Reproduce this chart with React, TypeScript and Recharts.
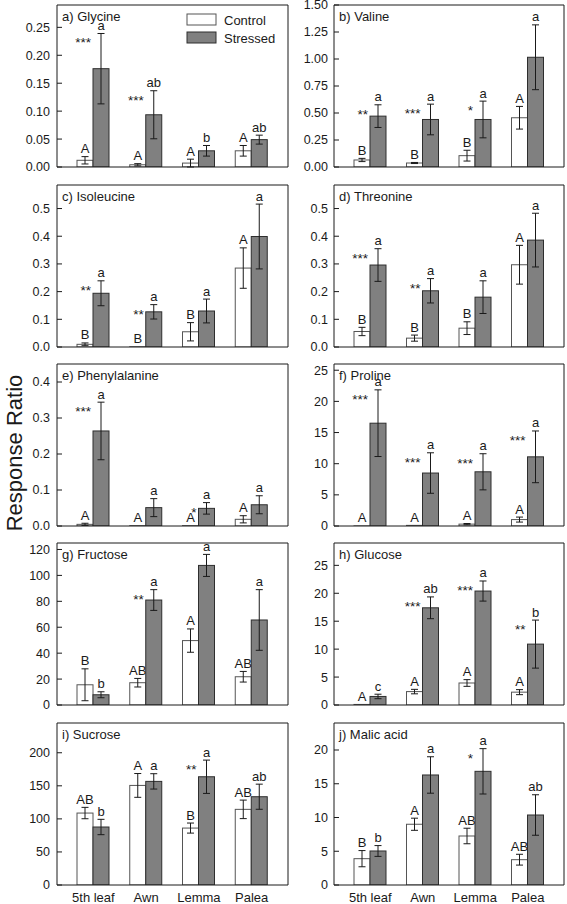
import { BarChart, Bar, XAxis, YAxis, ErrorBar } from 'recharts';

const FONT = '"Liberation Sans", Arial, Helvetica, sans-serif';
const INK = '#1a1a1a';
const CONTROL_FILL = '#ffffff';
const CONTROL_EDGE = '#555555';
const STRESSED_FILL = '#808080';
const STRESSED_EDGE = '#2e2e2e';

const organs = ['5th leaf', 'Awn', 'Lemma', 'Palea'];

// a) Glycine
const glyControl = [0.012, 0.004, 0.007, 0.029];
const glyControlSe = [0.0066, 0.002, 0.007, 0.0095];
const glyStressed = [0.176, 0.0935, 0.029, 0.049];
const glyStressedSe = [0.063, 0.043, 0.0095, 0.008];
const glyControlLetters = ['A', 'A', 'A', 'A'];
const glyStressedLetters = ['a', 'ab', 'b', 'ab'];
const glyStars = ['***', '***', '', ''];
const glyTicks = [0, 0.05, 0.1, 0.15, 0.2, 0.25];

// b) Valine
const valControl = [0.065, 0.037, 0.105, 0.456];
const valControlSe = [0.015, 0.005, 0.05, 0.105];
const valStressed = [0.471, 0.44, 0.44, 1.016];
const valStressedSe = [0.105, 0.142, 0.17, 0.3];
const valControlLetters = ['B', 'B', 'B', 'A'];
const valStressedLetters = ['a', 'a', 'a', 'a'];
const valStars = ['**', '***', '*', ''];
const valTicks = [0, 0.25, 0.5, 0.75, 1.0, 1.25, 1.5];

// c) Isoleucine
const ileControl = [0.0097, 0.001, 0.055, 0.285];
const ileControlSe = [0.005, 0, 0.033, 0.073];
const ileStressed = [0.194, 0.127, 0.13, 0.399];
const ileStressedSe = [0.045, 0.026, 0.043, 0.117];
const ileControlLetters = ['B', 'B', 'B', 'A'];
const ileStressedLetters = ['a', 'a', 'a', 'a'];
const ileStars = ['**', '**', '', ''];
const ileTicks = [0, 0.1, 0.2, 0.3, 0.4, 0.5];

// d) Threonine
const thrControl = [0.056, 0.032, 0.068, 0.297];
const thrControlSe = [0.015, 0.011, 0.023, 0.07];
const thrStressed = [0.296, 0.203, 0.18, 0.386];
const thrStressedSe = [0.059, 0.044, 0.059, 0.097];
const thrControlLetters = ['B', 'B', 'B', 'A'];
const thrStressedLetters = ['a', 'a', 'a', 'a'];
const thrStars = ['***', '**', '', ''];
const thrTicks = [0, 0.1, 0.2, 0.3, 0.4, 0.5];

// e) Phenylalanine
const pheControl = [0.0046, 0.001, 0.001, 0.0186];
const pheControlSe = [0.003, 0, 0, 0.01];
const pheStressed = [0.264, 0.051, 0.049, 0.059];
const pheStressedSe = [0.08, 0.025, 0.016, 0.025];
const pheControlLetters = ['A', 'A', 'A', 'A'];
const pheStressedLetters = ['a', 'a', 'a', 'a'];
const pheStars = ['***', '', '*', ''];
const pheTicks = [0, 0.1, 0.2, 0.3, 0.4];

// f) Proline
const proControl = [0.02, 0.1, 0.3, 1.03];
const proControlSe = [0, 0, 0.1, 0.4];
const proStressed = [16.5, 8.5, 8.7, 11.1];
const proStressedSe = [5.35, 3.25, 2.9, 4.15];
const proControlLetters = ['A', 'A', 'A', 'A'];
const proStressedLetters = ['a', 'a', 'a', 'a'];
const proStars = ['***', '***', '***', '***'];
const proTicks = [0, 5, 10, 15, 20, 25];

// g) Fructose
const fruControl = [15.6, 17.2, 49.7, 21.8];
const fruControlSe = [12.3, 3.3, 9, 4.1];
const fruStressed = [7.9, 81, 107.7, 65.6];
const fruStressedSe = [2.3, 8, 8.5, 23.4];
const fruControlLetters = ['B', 'AB', 'A', 'AB'];
const fruStressedLetters = ['b', 'a', 'a', 'a'];
const fruStars = ['', '**', '', ''];
const fruTicks = [0, 20, 40, 60, 80, 100, 120];

// h) Glucose
const gluControl = [0.1, 2.4, 3.94, 2.3];
const gluControlSe = [0, 0.4, 0.6, 0.45];
const gluStressed = [1.53, 17.4, 20.4, 10.9];
const gluStressedSe = [0.4, 1.95, 1.8, 4.3];
const gluControlLetters = ['A', 'A', 'A', 'A'];
const gluStressedLetters = ['c', 'ab', 'a', 'b'];
const gluStars = ['', '***', '***', '**'];
const gluTicks = [0, 5, 10, 15, 20, 25];

// i) Sucrose
const sucControl = [108.8, 150.6, 86.1, 114.4];
const sucControlSe = [8.6, 18, 7.6, 14];
const sucStressed = [87.7, 156.7, 163.7, 133.5];
const sucStressedSe = [11.6, 11.6, 25.2, 19];
const sucControlLetters = ['AB', 'A', 'B', 'AB'];
const sucStressedLetters = ['b', 'a', 'a', 'ab'];
const sucStars = ['', '', '**', ''];
const sucTicks = [0, 50, 100, 150, 200];

// j) Malic acid
const malControl = [3.9, 9.0, 7.26, 3.75];
const malControlSe = [1.2, 0.9, 1.15, 0.8];
const malStressed = [5.04, 16.3, 16.84, 10.37];
const malStressedSe = [0.8, 2.7, 3.36, 3];
const malControlLetters = ['B', 'A', 'AB', 'AB'];
const malStressedLetters = ['b', 'a', 'a', 'ab'];
const malStars = ['', '', '*', ''];
const malTicks = [0, 5, 10, 15, 20];

type PanelDef = {
  title: string;
  control: number[];
  controlSe: number[];
  stressed: number[];
  stressedSe: number[];
  cLetters: string[];
  sLetters: string[];
  stars: string[];
  ticks: number[];
  max: number;
  decimals: number;
};

const panels: PanelDef[] = [
  { title: 'a) Glycine', control: glyControl, controlSe: glyControlSe, stressed: glyStressed, stressedSe: glyStressedSe, cLetters: glyControlLetters, sLetters: glyStressedLetters, stars: glyStars, ticks: glyTicks, max: 0.29, decimals: 2 },
  { title: 'b) Valine', control: valControl, controlSe: valControlSe, stressed: valStressed, stressedSe: valStressedSe, cLetters: valControlLetters, sLetters: valStressedLetters, stars: valStars, ticks: valTicks, max: 1.5, decimals: 2 },
  { title: 'c) Isoleucine', control: ileControl, controlSe: ileControlSe, stressed: ileStressed, stressedSe: ileStressedSe, cLetters: ileControlLetters, sLetters: ileStressedLetters, stars: ileStars, ticks: ileTicks, max: 0.585, decimals: 1 },
  { title: 'd) Threonine', control: thrControl, controlSe: thrControlSe, stressed: thrStressed, stressedSe: thrStressedSe, cLetters: thrControlLetters, sLetters: thrStressedLetters, stars: thrStars, ticks: thrTicks, max: 0.585, decimals: 1 },
  { title: 'e) Phenylalanine', control: pheControl, controlSe: pheControlSe, stressed: pheStressed, stressedSe: pheStressedSe, cLetters: pheControlLetters, sLetters: pheStressedLetters, stars: pheStars, ticks: pheTicks, max: 0.45, decimals: 1 },
  { title: 'f) Proline', control: proControl, controlSe: proControlSe, stressed: proStressed, stressedSe: proStressedSe, cLetters: proControlLetters, sLetters: proStressedLetters, stars: proStars, ticks: proTicks, max: 26, decimals: 0 },
  { title: 'g) Fructose', control: fruControl, controlSe: fruControlSe, stressed: fruStressed, stressedSe: fruStressedSe, cLetters: fruControlLetters, sLetters: fruStressedLetters, stars: fruStars, ticks: fruTicks, max: 125, decimals: 0 },
  { title: 'h) Glucose', control: gluControl, controlSe: gluControlSe, stressed: gluStressed, stressedSe: gluStressedSe, cLetters: gluControlLetters, sLetters: gluStressedLetters, stars: gluStars, ticks: gluTicks, max: 29, decimals: 0 },
  { title: 'i) Sucrose', control: sucControl, controlSe: sucControlSe, stressed: sucStressed, stressedSe: sucStressedSe, cLetters: sucControlLetters, sLetters: sucStressedLetters, stars: sucStars, ticks: sucTicks, max: 245, decimals: 0 },
  { title: 'j) Malic acid', control: malControl, controlSe: malControlSe, stressed: malStressed, stressedSe: malStressedSe, cLetters: malControlLetters, sLetters: malStressedLetters, stars: malStars, ticks: malTicks, max: 24, decimals: 0 },
];

// layout
const ROW_TOPS = [5, 185, 364, 543, 723];
const PLOT_H = 162;
const PAD_TOP = 8;
const COLS = [
  { left: 0, width: 290, axisW: 57, tickMargin: 12 },
  { left: 290, width: 276, axisW: 44, tickMargin: 11 },
];

function Panel({ p, row, col }: { p: PanelDef; row: number; col: number }) {
  const last = row === 4;
  const c = COLS[col];
  const k = PLOT_H / p.max;
  const data = organs.map((name, i) => ({
    name,
    control: p.control[i],
    controlSe: p.controlSe[i],
    stressed: p.stressed[i],
    stressedSe: p.stressedSe[i],
  }));

  const makeShape = (kind: 'c' | 's') => (props: any) => {
    const { x, y, width, height, index } = props;
    const base = y + height;
    const val = kind === 'c' ? p.control[index] : p.stressed[index];
    const se = kind === 'c' ? p.controlSe[index] : p.stressedSe[index];
    const errTop = base - (val + se) * k;
    const letter = kind === 'c' ? p.cLetters[index] : p.sLetters[index];
    const stars = kind === 's' ? p.stars[index] : '';
    return (
      <g>
        <rect
          x={x}
          y={y}
          width={width}
          height={Math.max(height, 0)}
          fill={kind === 'c' ? CONTROL_FILL : STRESSED_FILL}
          stroke={kind === 'c' ? CONTROL_EDGE : STRESSED_EDGE}
          strokeWidth={1}
        />
        <text x={x + width / 2} y={errTop - 3.5} textAnchor="middle" fontSize={13} fontFamily={FONT} fill={INK}>
          {letter}
        </text>
        {stars && (
          <text x={x - 2} y={errTop + 14} textAnchor="end" fontSize={13.5} fontFamily={FONT} fill={INK}>
            {stars}
          </text>
        )}
      </g>
    );
  };

  const bottomExtra = last ? 19 : 8;

  return (
    <div style={{ position: 'absolute', left: c.left, top: ROW_TOPS[row] - PAD_TOP }}>
      <BarChart
        width={c.width}
        height={PAD_TOP + PLOT_H + bottomExtra}
        data={data}
        margin={{ top: PAD_TOP - 1, right: 1, bottom: last ? 0 : 7, left: 0 }}
        barGap={0}
        barSize={16}
      >
        <XAxis
          dataKey="name"
          padding={{ left: 10, right: 10 }}
          axisLine={{ stroke: INK }}
          tickLine={false}
          tick={last ? { fontSize: 13, fill: INK, fontFamily: FONT } : false}
          height={last ? 19 : 1}
          tickSize={0}
          tickMargin={8}
          interval={0}
        />
        <XAxis
          xAxisId="top"
          orientation="top"
          type="number"
          domain={[0, 1]}
          allowDataOverflow
          tick={false}
          tickLine={false}
          axisLine={{ stroke: INK }}
          height={1}
        />
        <YAxis
          width={c.axisW}
          domain={[0, p.max]}
          ticks={p.ticks}
          allowDataOverflow
          interval={0}
          tickSize={-5}
          tickMargin={c.tickMargin}
          tickLine={{ stroke: INK }}
          axisLine={{ stroke: INK }}
          tick={{ fontSize: 12.5, fill: INK, fontFamily: FONT }}
          tickFormatter={(v: number) => v.toFixed(p.decimals)}
        />
        <YAxis
          yAxisId="r"
          orientation="right"
          width={1}
          domain={[0, p.max]}
          ticks={p.ticks}
          allowDataOverflow
          interval={0}
          tickSize={-5}
          tick={false}
          tickLine={{ stroke: INK }}
          axisLine={{ stroke: INK }}
        />
        <Bar dataKey="control" fill={CONTROL_FILL} isAnimationActive={false} shape={makeShape('c')}>
          <ErrorBar dataKey="controlSe" width={3.5} stroke={INK} strokeWidth={1} />
        </Bar>
        <Bar dataKey="stressed" fill={STRESSED_FILL} isAnimationActive={false} shape={makeShape('s')}>
          <ErrorBar dataKey="stressedSe" width={3.5} stroke={INK} strokeWidth={1} />
        </Bar>
      </BarChart>
    </div>
  );
}

export default function App() {
  return (
    <div style={{ position: 'relative', width: 567, height: 904, background: '#fff', overflow: 'hidden' }}>
      <style>{'body{margin:0}'}</style>
      {panels.map((p, i) => (
        <Panel key={p.title} p={p} row={Math.floor(i / 2)} col={i % 2} />
      ))}
      <svg
        width={567}
        height={904}
        style={{ position: 'absolute', left: 0, top: 0, pointerEvents: 'none' }}
      >
        {panels.map((p, i) => {
          const row = Math.floor(i / 2);
          const col = i % 2;
          const plotLeft = COLS[col].left + COLS[col].axisW;
          return (
            <text key={p.title} x={plotLeft + 5} y={ROW_TOPS[row] + 15.5} fontSize={13} fontFamily={FONT} fill={INK}>
              {p.title}
            </text>
          );
        })}
        {/* legend in panel a */}
        <rect x={187} y={14} width={29} height={11} fill={CONTROL_FILL} stroke={CONTROL_EDGE} />
        <rect x={187} y={32} width={29} height={11} fill={STRESSED_FILL} stroke={STRESSED_EDGE} />
        <text x={224} y={25} fontSize={13} fontFamily={FONT} fill={INK}>Control</text>
        <text x={224} y={43} fontSize={13} fontFamily={FONT} fill={INK}>Stressed</text>
        <text
          x={22}
          y={453}
          transform="rotate(-90 22 453)"
          textAnchor="middle"
          fontSize={22}
          fontFamily={FONT}
          fill={INK}
        >
          Response Ratio
        </text>
      </svg>
    </div>
  );
}
